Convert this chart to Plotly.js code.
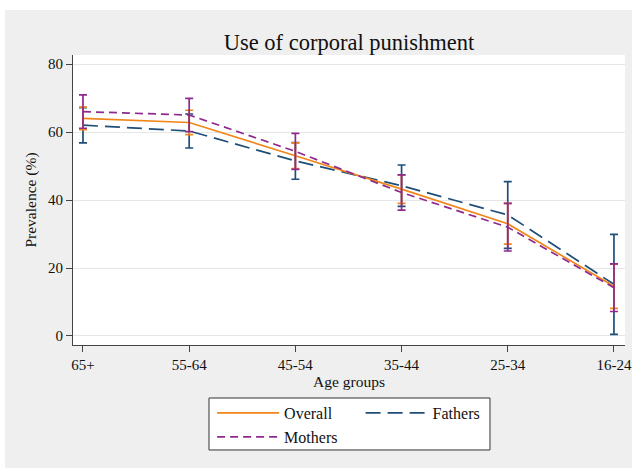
<!DOCTYPE html>
<html><head><meta charset="utf-8">
<script src="https://cdn.plot.ly/plotly-3.0.1.min.js"></script>
<style>body{margin:0;padding:0;background:#fff;}</style>
</head><body><div id="chart" style="width:632px;height:468px;"></div>
<script>
const ageGroups = ["65+", "55-64", "45-54", "35-44", "25-34", "16-24"];

const overallMean  = [64.0, 62.8, 53.0, 43.2, 33.0, 14.6];
const overallLower = [60.7, 59.2, 49.2, 39.0, 27.0, 8.1];
const overallUpper = [67.3, 66.4, 56.8, 47.4, 39.0, 21.1];

const fathersMean  = [62.0, 60.3, 51.5, 44.2, 35.6, 15.2];
const fathersLower = [56.8, 55.3, 46.1, 38.1, 25.8, 0.5];
const fathersUpper = [67.2, 65.3, 56.9, 50.3, 45.4, 29.9];

const mothersMean  = [66.0, 65.0, 54.3, 42.2, 32.0, 14.2];
const mothersLower = [61.1, 60.1, 49.0, 37.0, 25.0, 7.2];
const mothersUpper = [70.9, 69.9, 59.6, 47.4, 39.0, 21.2];

const yTicks = [0, 20, 40, 60, 80];

const SERIF = '"Liberation Serif", "Times New Roman", serif';
const C_OVERALL = '#f0861a', C_FATHERS = '#1f4e79', C_MOTHERS = '#8e2a8e';

function series(name, mean, lower, upper, color, dash, legend) {
  return {
    type: 'scatter', mode: 'lines', name: name, x: ageGroups, y: mean,
    line: {color: color, width: 1.7, dash: dash},
    error_y: {type: 'data', symmetric: false,
      array: upper.map((u, i) => u - mean[i]),
      arrayminus: mean.map((m, i) => m - lower[i]),
      color: color, thickness: 1.7, width: 4},
    legend: legend
  };
}

const traces = [
  series('Fathers', fathersMean, fathersLower, fathersUpper, C_FATHERS, '15px,7px', 'legend2'),
  series('Overall', overallMean, overallLower, overallUpper, C_OVERALL, 'solid', 'legend'),
  series('Mothers', mothersMean, mothersLower, mothersUpper, C_MOTHERS, '8px,5px', 'legend3')
];

const legFont = {family: SERIF, size: 16, color: '#111'};
const legBase = {font: legFont, bgcolor: 'rgba(0,0,0,0)', borderwidth: 0,
  xanchor: 'left', yanchor: 'middle', itemwidth: 62, orientation: 'v'};

const layout = {
  width: 632, height: 468,
  margin: {l: 73, r: 7, t: 55, b: 123, pad: 0},
  paper_bgcolor: '#efefef', plot_bgcolor: '#ffffff',
  font: {family: SERIF, size: 15, color: '#111'},
  title: {text: 'Use of corporal punishment', font: {family: SERIF, size: 22.5, color: '#111'},
    x: 0.5, xref: 'paper', xanchor: 'center', y: 1 - 42/468, yref: 'container', yanchor: 'middle'},
  xaxis: {type: 'category', range: [-0.094, 5.104], showgrid: false, zeroline: false,
    showline: true, linecolor: '#444', linewidth: 1, ticks: 'outside', ticklen: 6, tickcolor: '#444',
    tickfont: {family: SERIF, size: 15, color: '#111'},
    title: {text: 'Age groups', font: {family: SERIF, size: 15.5, color: '#111'}, standoff: 4}},
  yaxis: {range: [-2.65, 82.65], tickvals: yTicks, ticktext: yTicks.map(String),
    showgrid: true, gridcolor: '#e6e6e6', gridwidth: 1, zeroline: false,
    showline: true, linecolor: '#444', linewidth: 1, ticks: 'outside', ticklen: 6, tickcolor: '#444',
    tickfont: {family: SERIF, size: 15, color: '#111'},
    title: {text: 'Prevalence (%)', font: {family: SERIF, size: 15.5, color: '#111'}, standoff: 7}},
  showlegend: true,
  legend: Object.assign({}, legBase, {x: 0.252, y: -0.2345}),
  legend2: Object.assign({}, legBase, {x: 0.521, y: -0.2345}),
  legend3: Object.assign({}, legBase, {x: 0.252, y: -0.317}),
  shapes: [
    {type: 'rect', xref: 'paper', yref: 'paper', x0: -0.14, x1: 1.02, y0: 1.1552, y1: 1.25,
     fillcolor: '#ffffff', line: {width: 0}, layer: 'below'},
    {type: 'rect', xref: 'paper', yref: 'paper', x0: -0.14, x1: -0.1232, y0: -0.45, y1: 1.25,
     fillcolor: '#ffffff', line: {width: 0}, layer: 'below'},
    {type: 'rect', xref: 'paper', yref: 'paper', x0: 0.2464, x1: 0.7554, y0: -0.1828, y1: -0.362,
     fillcolor: '#ffffff', line: {color: '#333', width: 1}, layer: 'above'}
  ]
};

Plotly.newPlot('chart', traces, layout, {displayModeBar: false, staticPlot: true});
</script></body></html>
